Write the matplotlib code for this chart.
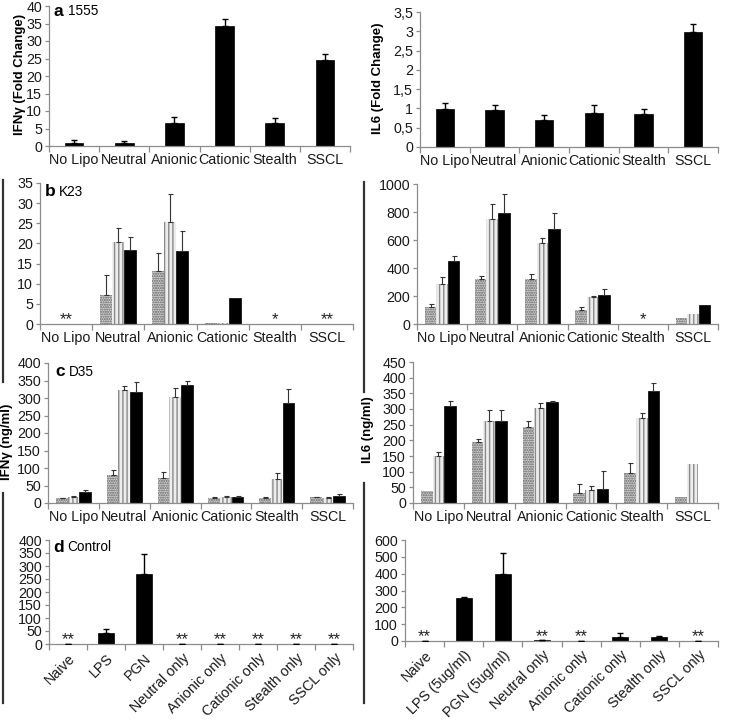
import matplotlib
matplotlib.use("Agg")
import matplotlib.pyplot as plt
import numpy as np
from matplotlib.lines import Line2D

plt.rcParams['font.family'] = ['Liberation Sans', 'DejaVu Sans']
plt.rcParams['hatch.linewidth'] = 1.0

# ---------------- data ----------------
cats = ["No Lipo", "Neutral", "Anionic", "Cationic", "Stealth", "SSCL"]

a_ifn = [0.9, 0.8, 6.5, 34.4, 6.6, 24.5]
a_ifn_err = [0.8, 0.6, 1.7, 1.8, 1.4, 1.7]
a_il6 = [0.99, 0.97, 0.71, 0.89, 0.86, 2.97]
a_il6_err = [0.16, 0.12, 0.11, 0.21, 0.13, 0.23]

b_ifn_s1 = [0, 7.2, 13.2, 0.3, 0, 0]
b_ifn_s1_err = [0, 5.0, 4.4, 0, 0, 0]
b_ifn_s2 = [0, 20.3, 25.3, 0.3, 0, 0]
b_ifn_s2_err = [0, 3.5, 6.9, 0, 0, 0]
b_ifn_s3 = [0, 18.4, 18.2, 6.5, 0, 0]
b_ifn_s3_err = [0, 3.3, 4.9, 0, 0, 0]
b_ifn_stars = ["**", "", "", "", "*", "**"]

b_il6_s1 = [121, 321, 321, 102, 0, 40]
b_il6_s1_err = [19, 23, 33, 19, 0, 0]
b_il6_s2 = [287, 750, 577, 192, 0, 74]
b_il6_s2_err = [46, 107, 36, 5, 0, 0]
b_il6_s3 = [447, 791, 677, 209, 0, 138]
b_il6_s3_err = [40, 138, 119, 40, 0, 0]
b_il6_stars = ["", "", "", "", "*", ""]

c_ifn_s1 = [13, 80, 71, 15, 15, 16]
c_ifn_s1_err = [2, 14, 17, 2, 3, 2]
c_ifn_s2 = [17, 322, 302, 18, 68, 15]
c_ifn_s2_err = [2, 13, 28, 2, 19, 2]
c_ifn_s3 = [32, 318, 336, 17, 287, 20]
c_ifn_s3_err = [4, 28, 13, 2, 39, 7]

c_il6_s1 = [38, 194, 243, 31, 96, 19]
c_il6_s1_err = [0, 10, 18, 29, 33, 0]
c_il6_s2 = [149, 263, 303, 40, 272, 123]
c_il6_s2_err = [14, 33, 16, 13, 15, 0]
c_il6_s3 = [309, 262, 322, 46, 357, 0]
c_il6_s3_err = [17, 34, 4, 56, 26, 0]

d_cats_left = ["Naive", "LPS", "PGN", "Neutral only", "Anionic only",
               "Cationic only", "Stealth only", "SSCL only"]
d_ifn = [0, 42, 268, 0, 0, 0, 0, 0]
d_ifn_err = [0, 17, 77, 0, 0, 0, 0, 0]
d_ifn_stars = ["**", "", "", "**", "**", "**", "**", "**"]

d_cats_right = ["Naive", "LPS (5ug/ml)", "PGN (5ug/ml)", "Neutral only",
                "Anionic only", "Cationic only", "Stealth only", "SSCL only"]
d_il6 = [0, 253, 396, 3, 0, 24, 24, 0]
d_il6_err = [0, 10, 125, 0, 0, 21, 6, 0]
d_il6_stars = ["**", "", "", "**", "**", "", "", "**"]

# ---------------- figure ----------------
W, H = 729, 721
fig = plt.figure(figsize=(W / 100, H / 100), dpi=100)

AX_COL = '#8c8c8c'
TICK_FS = 10.3
TXT_COL = '#1a1a1a'


def pax(x0, y0top, x1, y0bottom):
    return fig.add_axes([x0 / W, 1 - y0bottom / H, (x1 - x0) / W, (y0bottom - y0top) / H])


def style(ax, labels, ylim, yticks, yticklabels=None, rot=False):
    n = len(labels)
    ax.set_xlim(-0.5, n - 0.5)
    ax.set_ylim(*ylim)
    for s in ['top', 'right']:
        ax.spines[s].set_visible(False)
    for s in ['left', 'bottom']:
        ax.spines[s].set_color(AX_COL)
        ax.spines[s].set_linewidth(0.9)
    ax.set_xticks(np.arange(n))
    if rot:
        ax.set_xticklabels(labels, rotation=45, ha='right', rotation_mode='anchor',
                           fontsize=TICK_FS, color=TXT_COL)
    else:
        ax.set_xticklabels(labels, fontsize=TICK_FS, color=TXT_COL)
    ax.tick_params(axis='x', which='major', length=0, pad=5)
    ax.set_xticks(np.arange(n + 1) - 0.5, minor=True)
    ax.tick_params(axis='x', which='minor', length=4, color=AX_COL, width=0.9, direction='out')
    ax.set_yticks(yticks)
    if yticklabels is not None:
        ax.set_yticklabels(yticklabels)
    ax.tick_params(axis='y', length=3, color=AX_COL, width=0.9, labelsize=TICK_FS,
                   labelcolor=TXT_COL, pad=2)


def stars(ax, st):
    for i, s in enumerate(st):
        if s:
            ax.text(i, 0, s, ha='center', va='baseline', fontsize=12, color='#222222')


def single(ax, vals, errs, width):
    x = np.arange(len(vals))
    ax.bar(x, vals, width, color='black', edgecolor='black', linewidth=0.5, zorder=2)
    ax.errorbar(x, vals, yerr=[np.zeros(len(vals)), errs], fmt='none', ecolor='black',
                elinewidth=1.0, capsize=2, capthick=1.0, zorder=3)


def triple(ax, s1, e1, s2, e2, s3, e3):
    x = np.arange(len(s1))
    w = 0.23
    specs = [
        (s1, e1, -w, dict(color='#d2d2d2', edgecolor='#5e5e5e', hatch='.......', linewidth=0)),
        (s2, e2, 0, dict(color='#ededed', edgecolor='#8a8a8a', hatch='||||', linewidth=0)),
        (s3, e3, w, dict(color='black', edgecolor='black', linewidth=0.5)),
    ]
    for vals, errs, off, kw in specs:
        ax.bar(x + off, vals, w, zorder=2, **kw)
        errs = np.asarray(errs, dtype=float)
        m = errs > 0
        ax.errorbar((x + off)[m], np.asarray(vals)[m], yerr=[np.zeros(m.sum()), errs[m]],
                    fmt='none', ecolor='#333333', elinewidth=0.8, capsize=1.8,
                    capthick=0.8, zorder=3)


def plabel(ax, letter, name, xpx, ypx):
    fig.text(xpx / W, 1 - ypx / H, letter, fontsize=12.5, fontweight='bold', va='center', ha='left')
    fig.text((xpx + 14) / W, 1 - ypx / H, name, fontsize=9.8, va='center', ha='left')


# Panel a
ax = pax(49, 6, 350, 146)
single(ax, a_ifn, a_ifn_err, 0.37)
style(ax, cats, (0, 40), np.arange(0, 41, 5))
plabel(ax, 'a', '1555', 54, 11)

ax = pax(420, 12, 718, 147)
single(ax, a_il6, a_il6_err, 0.37)
yt = np.arange(0, 3.51, 0.5)
style(ax, cats, (0, 3.5), yt, [('%g' % v).replace('.', ',') for v in yt])

fig.text(20 / W, 1 - 74 / H, 'IFNγ (Fold Change)', rotation=90, fontsize=9.5,
         fontweight='bold', ha='center', va='center')
fig.text(378 / W, 1 - 78 / H, 'IL6 (Fold Change)', rotation=90, fontsize=9.5,
         fontweight='bold', ha='center', va='center')

# Panel b
ax = pax(40, 183, 353, 324)
triple(ax, b_ifn_s1, b_ifn_s1_err, b_ifn_s2, b_ifn_s2_err, b_ifn_s3, b_ifn_s3_err)
style(ax, cats, (0, 35), np.arange(0, 36, 5))
stars(ax, b_ifn_stars)
plabel(ax, 'b', 'K23', 45, 192)

ax = pax(417, 184, 718, 324)
triple(ax, b_il6_s1, b_il6_s1_err, b_il6_s2, b_il6_s2_err, b_il6_s3, b_il6_s3_err)
style(ax, cats, (0, 1000), np.arange(0, 1001, 200))
stars(ax, b_il6_stars)

# Panel c
ax = pax(48, 363, 353, 503)
triple(ax, c_ifn_s1, c_ifn_s1_err, c_ifn_s2, c_ifn_s2_err, c_ifn_s3, c_ifn_s3_err)
style(ax, cats, (0, 400), np.arange(0, 401, 50))
plabel(ax, 'c', 'D35', 55, 372)

ax = pax(413, 362, 718, 503)
triple(ax, c_il6_s1, c_il6_s1_err, c_il6_s2, c_il6_s2_err, c_il6_s3, c_il6_s3_err)
style(ax, cats, (0, 450), np.arange(0, 451, 50))

fig.text(7 / W, 1 - 442 / H, 'IFNγ (ng/ml)', rotation=90, fontsize=9.5,
         fontweight='bold', ha='center', va='center')
fig.text(368 / W, 1 - 430 / H, 'IL6 (ng/ml)', rotation=90, fontsize=9.5,
         fontweight='bold', ha='center', va='center')

# Panel d
ax = pax(49, 540, 353, 644)
single(ax, d_ifn, d_ifn_err, 0.4)
style(ax, d_cats_left, (0, 400), np.arange(0, 401, 50), rot=True)
stars(ax, d_ifn_stars)
plabel(ax, 'd', 'Control', 53, 547)

ax = pax(405, 540, 718, 641)
single(ax, d_il6, d_il6_err, 0.4)
style(ax, d_cats_right, (0, 600), np.arange(0, 601, 100), rot=True)
stars(ax, d_il6_stars)

# separator lines
for (x, y0, y1) in [(3, 180, 382), (3, 493, 703), (364, 182, 392), (364, 483, 703)]:
    fig.add_artist(Line2D([x / W, x / W], [1 - y0 / H, 1 - y1 / H], color='#333333', linewidth=1.6))

fig.savefig('out.png', dpi=100)
